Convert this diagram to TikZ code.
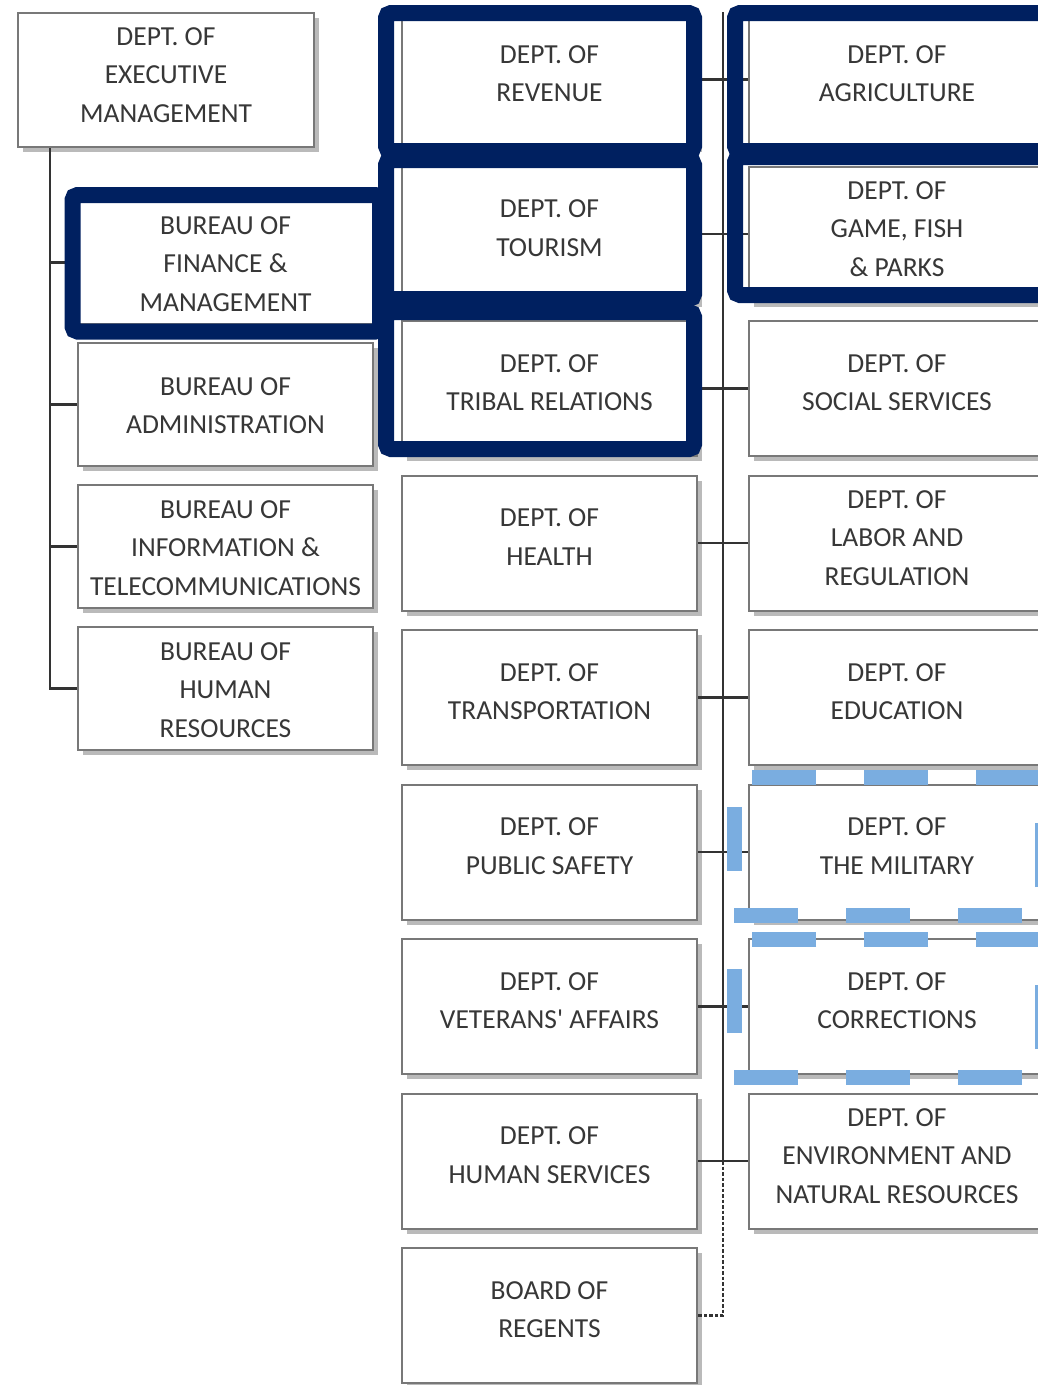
\documentclass[tikz,border=0pt]{standalone}
\usepackage{fontspec}
\setmainfont{Carlito}
\usetikzlibrary{shadows}
\definecolor{navy}{RGB}{0,32,96}
\definecolor{ltblue}{RGB}{122,173,224}
\definecolor{txtgray}{RGB}{55,55,55}
\definecolor{boxgray}{RGB}{120,120,120}
\begin{document}
\begin{tikzpicture}[x=1pt,y=-1pt,
  orgbox/.style={draw=boxgray, line width=2pt, fill=white, inner sep=0pt,
    drop shadow={shadow xshift=5pt, shadow yshift=-5pt, fill=black!27, opacity=1}},
  execbox/.style={orgbox, minimum width=296pt, minimum height=134pt},
  burbox/.style={orgbox, minimum width=295pt, minimum height=123pt},
  midbox/.style={orgbox, minimum width=295pt, minimum height=135pt},
  rgtbox/.style={orgbox, minimum width=296pt, minimum height=135pt},
  lbl/.style={align=center, text=txtgray, inner sep=0pt,
    font=\fontsize{27.5}{38.5}\selectfont},
  link/.style={draw=black!80, line width=2.2pt},
  hl/.style={draw=navy, line width=16pt, rounded corners=5pt},
  hldash/.style={draw=ltblue, line width=15pt, dash pattern=on 64pt off 48pt}
]
\useasboundingbox (0,0) rectangle (1038,1385);
\clip (0,0) rectangle (1038,1385);
\fill[white] (0,0) rectangle (1038,1385);

% left column
\node[execbox] (exec) at (166,80) {};
\node[lbl] (execT) at ([yshift=5pt]exec.center) {DEPT. OF\\EXECUTIVE\\MANAGEMENT};
\node[burbox] (fin) at (225.5,262.5) {};
\node[lbl] (finT) at ([yshift=-1.5pt]fin.center) {BUREAU OF\\FINANCE \&\\MANAGEMENT};
\node[burbox] (adm) at (225.5,404.5) {};
\node[lbl] (admT) at ([yshift=-1pt]adm.center) {BUREAU OF\\ADMINISTRATION};
\node[burbox] (inf) at (225.5,546.5) {};
\node[lbl] (infT) at ([yshift=-1.5pt]inf.center) {BUREAU OF\\INFORMATION \&\\TELECOMMUNICATIONS};
\node[burbox] (hr) at (225.5,688.5) {};
\node[lbl] (hrT) at ([yshift=-1.5pt]hr.center) {BUREAU OF\\HUMAN\\RESOURCES};

% middle column
\node[midbox] (rev) at (549.5,79.5) {};
\node[lbl] (revT) at ([yshift=6pt]rev.center) {DEPT. OF\\REVENUE};
\node[midbox] (tou) at (549.5,234) {};
\node[lbl] (touT) at ([yshift=6pt]tou.center) {DEPT. OF\\TOURISM};
\node[midbox] (tri) at (549.5,388.5) {};
\node[lbl] (triT) at ([yshift=6pt]tri.center) {DEPT. OF\\TRIBAL RELATIONS};
\node[midbox] (hea) at (549.5,543) {};
\node[lbl] (heaT) at ([yshift=6pt]hea.center) {DEPT. OF\\HEALTH};
\node[midbox] (tra) at (549.5,697.5) {};
\node[lbl] (traT) at ([yshift=6pt]tra.center) {DEPT. OF\\TRANSPORTATION};
\node[midbox] (pub) at (549.5,852) {};
\node[lbl] (pubT) at ([yshift=6pt]pub.center) {DEPT. OF\\PUBLIC SAFETY};
\node[midbox] (vet) at (549.5,1006.5) {};
\node[lbl] (vetT) at ([yshift=6pt]vet.center) {DEPT. OF\\VETERANS\textquotesingle{} AFFAIRS};
\node[midbox] (hs) at (549.5,1161) {};
\node[lbl] (hsT) at ([yshift=6pt]hs.center) {DEPT. OF\\HUMAN SERVICES};
\node[midbox] (brd) at (549.5,1315.5) {};
\node[lbl] (brdT) at ([yshift=6pt]brd.center) {BOARD OF\\REGENTS};

% right column
\node[rgtbox] (agr) at (897,79.5) {};
\node[lbl] (agrT) at ([yshift=6pt]agr.center) {DEPT. OF\\AGRICULTURE};
\node[rgtbox] (gfp) at (897,234) {};
\node[lbl] (gfpT) at ([yshift=5pt]gfp.center) {DEPT. OF\\GAME, FISH\\\& PARKS};
\node[rgtbox] (soc) at (897,388.5) {};
\node[lbl] (socT) at ([yshift=6pt]soc.center) {DEPT. OF\\SOCIAL SERVICES};
\node[rgtbox] (lab) at (897,543) {};
\node[lbl] (labT) at ([yshift=5pt]lab.center) {DEPT. OF\\LABOR AND\\REGULATION};
\node[rgtbox] (edu) at (897,697.5) {};
\node[lbl] (eduT) at ([yshift=6pt]edu.center) {DEPT. OF\\EDUCATION};
\node[rgtbox] (mil) at (897,852) {};
\node[lbl] (milT) at ([yshift=6pt]mil.center) {DEPT. OF\\THE MILITARY};
\node[rgtbox] (cor) at (897,1006.5) {};
\node[lbl] (corT) at ([yshift=6pt]cor.center) {DEPT. OF\\CORRECTIONS};
\node[rgtbox] (env) at (897,1161) {};
\node[lbl] (envT) at ([yshift=5pt]env.center) {DEPT. OF\\ENVIRONMENT AND\\NATURAL RESOURCES};

% connectors
\coordinate (lx) at (50,0);
\coordinate (trunk) at (723,12);
\draw[link] (exec.south -| lx) -- (lx |- hr.west) -- (hr.west);
\draw[link] (lx |- fin.west) -- (fin.west);
\draw[link] (lx |- adm.west) -- (adm.west);
\draw[link] (lx |- inf.west) -- (inf.west);

\draw[link] (trunk) -- (trunk |- hs.east);
\draw[link, dash pattern=on 3.5pt off 2pt] (trunk |- hs.east) -- (trunk |- brd.east) -- (brd.east);
\foreach \m/\r in {rev/agr, tou/gfp, tri/soc, hea/lab, tra/edu, pub/mil, vet/cor, hs/env}
  \draw[link] (\m.east) -- (\r.west);

% highlights
\draw[hl] (72.5,195) rectangle (380,331.5);
\draw[hl] (386,13) rectangle (694,151);
\draw[hl] (386,160) rectangle (694,299);
\draw[hl] (386,312) rectangle (694,449);
\draw[hl] (735,13) rectangle (1060,151);
\draw[hl] (735,157) rectangle (1060,295);

\draw[hldash] (734,915) -- (1042,915) -- (1042,777) -- (734,777) -- cycle;
\draw[hldash] (734,1077) -- (1042,1077) -- (1042,939) -- (734,939) -- cycle;
\end{tikzpicture}
\end{document}
